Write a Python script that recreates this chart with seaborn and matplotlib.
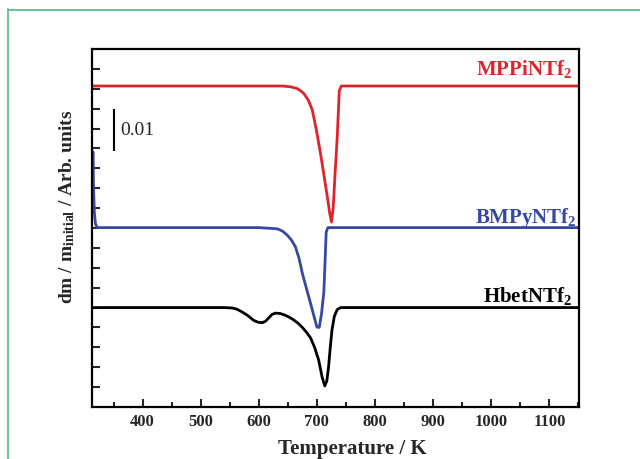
import numpy as np
import pandas as pd
import matplotlib
matplotlib.use("Agg")
import matplotlib.pyplot as plt
import seaborn as sns
from matplotlib.lines import Line2D
from matplotlib.ticker import MultipleLocator

# ---- data (temperature in K, dm/m_initial offset, arb. units)
mppi_T = [313, 640, 655, 667, 677, 685, 692, 699, 706, 712, 718, 722, 725, 728, 731, 735, 738.5, 742, 1151]
mppi_v = [0.0807, 0.0807, 0.0805, 0.0800, 0.0789, 0.0772, 0.0747, 0.0697, 0.0639, 0.0584, 0.0528, 0.0488, 0.0465, 0.0500, 0.0580, 0.0679, 0.0795, 0.0807, 0.0807]

bmpy_T = [315, 315.5, 317, 319, 322, 600, 632, 641, 649, 656, 663, 669, 675, 682, 689, 695, 700, 704, 708, 712, 716, 719, 1151]
bmpy_v = [0.0641, 0.0560, 0.0490, 0.0460, 0.0451, 0.0451, 0.0448, 0.0442, 0.0432, 0.0420, 0.0403, 0.0375, 0.0336, 0.0298, 0.0261, 0.0228, 0.0201, 0.0200, 0.0235, 0.0290, 0.0440, 0.0451, 0.0451]

hbet_T = [313, 540, 554, 562, 570, 580, 591, 599, 606, 612, 617, 623, 629, 637, 645, 652, 660, 668, 675, 682, 689, 696, 703, 709, 713.5, 717, 720, 723, 726, 730, 735, 741, 1151]
hbet_v = [0.0250, 0.0250, 0.0249, 0.0246, 0.0240, 0.0231, 0.0218, 0.0213, 0.0212, 0.0216, 0.0224, 0.0233, 0.0236, 0.0235, 0.0231, 0.0226, 0.0219, 0.0210, 0.0200, 0.0188, 0.0174, 0.0150, 0.0118, 0.0075, 0.0053, 0.0065, 0.0100, 0.0150, 0.0194, 0.0228, 0.0245, 0.0250, 0.0250]

series_names = ["MPPiNTf$_2$", "BMPyNTf$_2$", "HbetNTf$_2$"]
series_colors = ["#e0232b", "#3548a3", "#000000"]
x_ticks = [400, 500, 600, 700, 800, 900, 1000, 1100]
scale_bar_value = 0.0105
scale_bar_label = "0.01"

sns.set_style("ticks")
plt.rcParams["font.family"] = ["Liberation Serif", "DejaVu Serif"]
plt.rcParams["mathtext.fontset"] = "custom"
plt.rcParams["mathtext.rm"] = "Liberation Serif:bold"
plt.rcParams["mathtext.it"] = "Liberation Serif:bold"
plt.rcParams["mathtext.bf"] = "Liberation Serif:bold"
plt.rcParams["mathtext.default"] = "rm"

frames = []
for name, T, v in zip(series_names, [mppi_T, bmpy_T, hbet_T], [mppi_v, bmpy_v, hbet_v]):
    frames.append(pd.DataFrame({"T": T, "v": v, "sample": name}))
df = pd.concat(frames, ignore_index=True)

fig = plt.figure(figsize=(6.4, 4.59), dpi=100)
ax = fig.add_axes([92 / 640, 52 / 459, 487 / 640, 358 / 459])

sns.lineplot(data=df, x="T", y="v", hue="sample", palette=dict(zip(series_names, series_colors)),
             estimator=None, sort=False, linewidth=2.0, legend=False, ax=ax)
for ln in ax.get_lines():
    ln.set_solid_joinstyle("round")

ax.set_xlim(313, 1151)
ax.set_ylim(0, 0.09)
ax.set_xticks(x_ticks)
ax.xaxis.set_minor_locator(MultipleLocator(50))
ax.set_yticks(np.arange(0.005, 0.0876, 0.005))
ax.set_yticklabels([])
ax.tick_params(axis="x", which="major", direction="in", length=6, width=1.5, labelsize=12, pad=5)
ax.tick_params(axis="x", which="minor", direction="in", length=3.5, width=1.5)
ax.tick_params(axis="y", which="major", direction="in", length=6, width=1.5)
for lab in ax.get_xticklabels():
    lab.set_fontweight("bold")
for sp in ax.spines.values():
    sp.set_linewidth(1.6)
    sp.set_color("black")

ax.set_xlabel("Temperature / K", fontsize=15, fontweight="bold")
ax.xaxis.set_label_coords(0.534, -0.088)
ax.set_ylabel(r"dm / m$_{\mathrm{initial}}$ / Arb. units", fontsize=14, fontweight="bold", va="center")
ax.yaxis.set_label_coords(-0.052, 0.56)

# sample labels
label_pos = [(1139, 0.0835), (1147, 0.0463), (1139, 0.0264)]
for name, col, (tx, ty) in zip(series_names, series_colors, label_pos):
    ax.text(tx, ty, name, color=col, fontsize=15, fontweight="bold", ha="right", va="baseline")

# scale bar
ax.vlines(350, 0.0696 - scale_bar_value / 2, 0.0696 + scale_bar_value / 2, color="black", linewidth=1.5)
ax.text(362, 0.0696, scale_bar_label, fontsize=14, va="center", ha="left",
        family=["Liberation Serif", "DejaVu Serif"])

# green frame around the figure
fig.add_artist(Line2D([7.5 / 640, 7.5 / 640], [0, 1 - 9 / 459], color="#5cbf8c", linewidth=1.3,
                      transform=fig.transFigure))
fig.add_artist(Line2D([7.5 / 640, 1], [1 - 9.5 / 459, 1 - 9.5 / 459], color="#5cbf8c", linewidth=1.3,
                      transform=fig.transFigure))

fig.savefig("out.png", dpi=100)
